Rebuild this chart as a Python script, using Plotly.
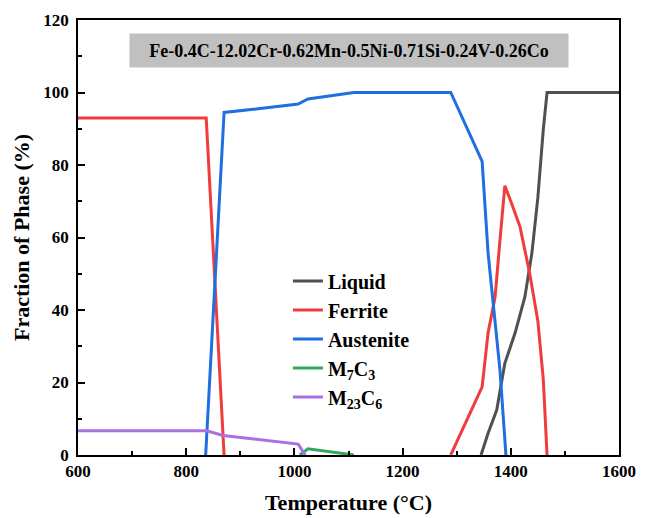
import plotly.graph_objects as go

# ---- data ----
temp_liquid = [1345, 1358, 1374, 1389, 1408, 1426, 1439, 1450, 1460, 1467, 1600]
frac_liquid = [0, 6, 12.4, 25.3, 33.7, 43.6, 55.7, 71, 89.7, 100, 100]

temp_ferrite = [600, 837, 870, None, 1289, 1347, 1358, 1371, 1380, 1389, 1400, 1417, 1435, 1450, 1460, 1467]
frac_ferrite = [93, 93, 0, None, 0, 18.8, 33.7, 43.6, 59.3, 74.3, 70, 63, 50, 37, 21, 0]

temp_austenite = [836, 870, 920, 1007, 1025, 1066, 1110, 1289, 1347, 1358, 1380, 1391]
frac_austenite = [0, 94.5, 95.3, 96.8, 98.2, 99, 100, 100, 81, 55.7, 23.4, 0]

temp_m7c3 = [1010, 1025, 1110]
frac_m7c3 = [0, 1.7, 0]

temp_m23c6 = [600, 838, 868, 1007, 1020]
frac_m23c6 = [6.7, 6.7, 5.4, 3.0, 0]

series = [
    ("Liquid", temp_liquid, frac_liquid, "#505050"),
    ("Ferrite", temp_ferrite, frac_ferrite, "#f03c3c"),
    ("Austenite", temp_austenite, frac_austenite, "#1f6fe0"),
    ("M<sub>7</sub>C<sub>3</sub>", temp_m7c3, frac_m7c3, "#30a860"),
    ("M<sub>23</sub>C<sub>6</sub>", temp_m23c6, frac_m23c6, "#a870e0"),
]

composition = "Fe-0.4C-12.02Cr-0.62Mn-0.5Ni-0.71Si-0.24V-0.26Co"

FONT = "Liberation Serif"

fig = go.Figure()
for name, xs, ys, col in series:
    fig.add_trace(go.Scatter(x=xs, y=ys, name=name, mode="lines",
                             line=dict(color=col, width=3), connectgaps=False))

axis_common = dict(
    showline=True, linewidth=1.5, linecolor="black", mirror=True,
    showgrid=False, zeroline=False, automargin=False,
    ticks="inside", ticklen=7, tickwidth=1.5, tickcolor="black",
    tickfont=dict(family=FONT, size=17, color="black", weight="bold"),
)

fig.update_layout(
    width=649, height=518,
    margin=dict(l=78, r=30, t=20, b=63),
    plot_bgcolor="white", paper_bgcolor="white",
    font=dict(family=FONT, color="black"),
    xaxis=dict(range=[600, 1600], tick0=600, dtick=200,
               minor=dict(ticks="inside", ticklen=4, dtick=100, tickwidth=1.5, tickcolor="black", showgrid=False),
               title=dict(text="Temperature (°C)", font=dict(family=FONT, size=22, color="black", weight="bold"), standoff=14),
               **axis_common),
    yaxis=dict(range=[0, 120], tick0=0, dtick=20, ticklabelstandoff=4,
               minor=dict(ticks="inside", ticklen=4, dtick=10, tickwidth=1.5, tickcolor="black", showgrid=False),
               title=dict(text="Fraction of Phase (%)", font=dict(family=FONT, size=22, color="black", weight="bold"), standoff=8),
               **axis_common),
    legend=dict(x=0.388, y=0.445, xanchor="left", yanchor="top",
                bgcolor="rgba(0,0,0,0)",
                font=dict(family=FONT, size=20, color="black", weight="bold")),
    annotations=[dict(
        x=0.5, y=0.931, xref="paper", yref="paper",
        xanchor="center", yanchor="middle",
        text=composition, showarrow=False,
        font=dict(family=FONT, size=18, color="black", weight="bold"),
        bgcolor="#c0c0c0", width=436, height=31,
    )],
)

fig.write_html("out.html")
